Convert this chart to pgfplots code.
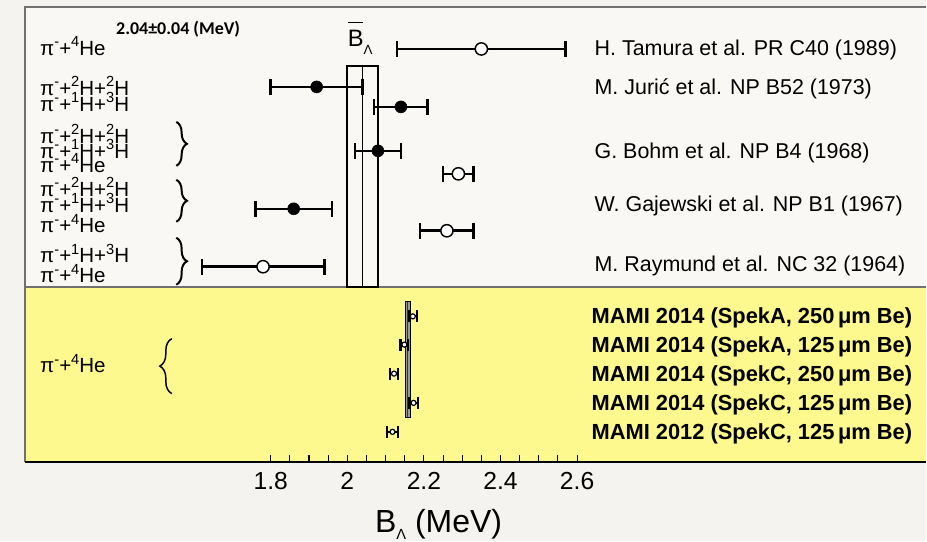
\documentclass[border=0pt]{standalone}
\usepackage{pgfplots}
\pgfplotsset{compat=1.18}
\usepackage{pgfplotstable}
\usepackage{fontspec}
\setmainfont{Liberation Sans}
\newfontfamily\carlito{Carlito}
\usetikzlibrary{decorations.pathreplacing}
\definecolor{bgout}{HTML}{F4F3EF}
\definecolor{bgin}{HTML}{F9F8F5}
\definecolor{yel}{HTML}{FDF98F}
\definecolor{framec}{HTML}{707070}
\pgfplotstableread{
x y ex
1.92 87 0.12
2.14 107 0.07
2.08 151 0.06
1.86 209 0.10
}\closedpts
\pgfplotstableread{
x y ex
2.35 49 0.22
2.29 174 0.04
2.26 231 0.07
1.78 267 0.16
}\openpts
\pgfplotstableread{
x y ex
2.171 316.7 0.010
2.149 345.0 0.010
2.122 374.0 0.011
2.173 403.3 0.011
2.118 432.3 0.015
}\mamipts
\newcommand\sups[1]{\raisebox{0.42em}{\fontsize{11}{11}\selectfont #1}}
\newcommand\pim{π\sups{-}}
\newcommand\sH[1]{\sups{#1}H}
\begin{document}
\begin{tikzpicture}
\begin{axis}[
  scale only axis, width=676.5pt, height=341.25pt,
  xmin=1.15838, xmax=3.511, ymin=7, ymax=462, y dir=reverse,
  axis x line*=bottom, axis y line=none,
  x axis line style={line width=1.5pt, black},
  xtick={1.8,1.85,1.9,1.95,2,2.05,2.1,2.15,2.2,2.25,2.3,2.35,2.4,2.45,2.5,2.55,2.6},
  xticklabels={1.8,,,,2,,,,2.2,,,,2.4,,,,2.6},
  tick align=inside, major tick length=5.25pt,
  x tick style={black, line width=0.8pt},
  x tick label style={font=\fontsize{18.5}{18.5}\selectfont, anchor=north, inner sep=0pt, yshift=-8pt},
  /pgf/number format/assume math mode=true,
  clip=false, axis on top,
]
% backgrounds
\fill[bgout] (axis cs:1.09317,0) rectangle (axis cs:3.511,542);
\fill[bgin] (axis cs:1.15838,7) rectangle (axis cs:3.511,287);
\fill[yel] (axis cs:1.15838,287) rectangle (axis cs:3.511,462);
\draw[framec, line width=1.5pt] (axis cs:3.511,7) -- (axis cs:1.15838,7) -- (axis cs:1.15838,462);
\draw[framec, line width=1.5pt] (axis cs:1.15838,287) -- (axis cs:3.511,287);

% average band (old data)
\addplot[black, line width=1.4pt, mark=none] coordinates {(2.00,66) (2.08,66) (2.08,287) (2.00,287)} -- cycle;
\addplot[black, line width=1.0pt, mark=none] coordinates {(2.04,66) (2.04,287)};

% MAMI band
\addplot[draw=black, fill=gray!80, line width=0.8pt, mark=none] coordinates {(2.152,301.7) (2.164,301.7) (2.164,417.7) (2.152,417.7)} -- cycle;
\addplot[red!70!black, line width=0.5pt, mark=none] coordinates {(2.158,302.5) (2.158,417)};

% data
\addplot[only marks, mark=*, mark size=4.5pt, mark options={fill=black, draw=black},
  error bars/.cd, x dir=both, x explicit,
  error bar style={line width=1.9pt, black},
  error mark options={rotate=90, mark size=6pt, line width=1.9pt, black}]
  table[x=x, y=y, x error=ex] {\closedpts};
\addplot[only marks, mark=*, mark size=4.6pt, mark options={fill=white, draw=black, line width=1.1pt},
  error bars/.cd, x dir=both, x explicit,
  error bar style={line width=1.9pt, black},
  error mark options={rotate=90, mark size=6pt, line width=1.9pt, black}]
  table[x=x, y=y, x error=ex] {\openpts};
\addplot[only marks, mark=*, mark size=1.9pt, mark options={fill=white, draw=black, line width=0.9pt},
  error bars/.cd, x dir=both, x explicit,
  error bar style={line width=1.5pt, black},
  error mark options={rotate=90, mark size=4.5pt, line width=1.7pt, black}]
  table[x=x, y=y, x error=ex] {\mamipts};

% left labels
\begin{scope}[every node/.style={anchor=base west, inner sep=0pt, font=\fontsize{15.4}{15.4}\selectfont}]
\node at (axis cs:1.1975,55.3) {\pim+\sups{4}He};
\node at (axis cs:1.1975,95.3) {\pim+\sH{2}+\sH{2}};
\node at (axis cs:1.1975,111.3) {\pim+\sH{1}+\sH{3}};
\node at (axis cs:1.1975,143.3) {\pim+\sH{2}+\sH{2}};
\node at (axis cs:1.1975,158.3) {\pim+\sH{1}+\sH{3}};
\node at (axis cs:1.1975,172.3) {\pim+\sups{4}He};
\node at (axis cs:1.1975,196.3) {\pim+\sH{2}+\sH{2}};
\node at (axis cs:1.1975,212.3) {\pim+\sH{1}+\sH{3}};
\node at (axis cs:1.1975,233) {\pim+\sups{4}He};
\node at (axis cs:1.1975,263) {\pim+\sH{1}+\sH{3}};
\node at (axis cs:1.1975,283) {\pim+\sups{4}He};
\node at (axis cs:1.1975,373.3) {\pim+\sups{4}He};
\end{scope}

% braces
\draw[decorate, decoration={brace, amplitude=8pt}, line width=1.5pt] (axis cs:1.55352,122) -- (axis cs:1.55352,166);
\draw[decorate, decoration={brace, amplitude=8pt}, line width=1.5pt] (axis cs:1.55352,180) -- (axis cs:1.55352,222);
\draw[decorate, decoration={brace, amplitude=8pt}, line width=1.5pt] (axis cs:1.55352,238) -- (axis cs:1.55352,285);
\draw[decorate, decoration={brace, amplitude=9pt}, line width=1.1pt] (axis cs:1.54178,394) -- (axis cs:1.54178,339);

% right labels
\begin{scope}[every node/.style={anchor=base west, inner sep=0pt, font=\fontsize{16.1}{16.1}\selectfont}]
\node at (axis cs:2.64507,55.5) {H. Tamura et al. PR C40 (1989)};
\node at (axis cs:2.64507,95) {M. Jurić et al. NP B52 (1973)};
\node at (axis cs:2.64507,158.3) {G. Bohm et al. NP B4 (1968)};
\node at (axis cs:2.64507,211.5) {W. Gajewski et al. NP B1 (1967)};
\node at (axis cs:2.64507,271.5) {M. Raymund et al. NC 32 (1964)};
\end{scope}
\begin{scope}[every node/.style={anchor=base west, inner sep=0pt, font=\fontsize{16.4}{16.4}\selectfont\bfseries}]
\node at (axis cs:2.63725,324) {MAMI 2014 (SpekA, 250\,μm Be)};
\node at (axis cs:2.63725,353) {MAMI 2014 (SpekA, 125\,μm Be)};
\node at (axis cs:2.63725,382) {MAMI 2014 (SpekC, 250\,μm Be)};
\node at (axis cs:2.63725,411) {MAMI 2014 (SpekC, 125\,μm Be)};
\node at (axis cs:2.63725,440) {MAMI 2012 (SpekC, 125\,μm Be)};
\end{scope}

% annotations
\node[anchor=base west, inner sep=0pt, font=\carlito\bfseries\fontsize{13.5}{13.5}\selectfont] at (axis cs:1.39572,35) {2.04±0.04 (MeV)};
\node[anchor=base west, inner sep=0pt, font=\fontsize{17.8}{18}\selectfont] at (axis cs:2.00083,47)
  {\rlap{\rule[17.7pt]{0.62em}{1.4pt}}B\raisebox{-6pt}{\fontsize{10}{10}\selectfont Λ}};
\node[anchor=base, inner sep=0pt, font=\fontsize{24}{24}\selectfont] at (axis cs:2.23818,533)
  {B\raisebox{-5pt}{\fontsize{11}{11}\selectfont Λ} (MeV)};
\end{axis}
\end{tikzpicture}
\end{document}
